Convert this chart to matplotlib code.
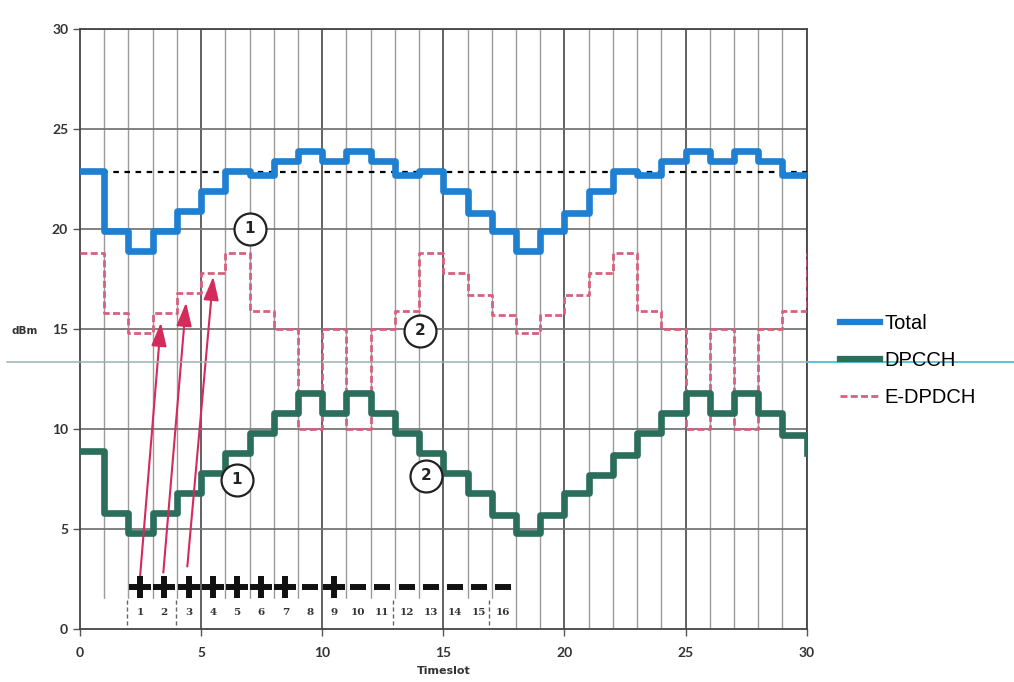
import matplotlib
matplotlib.use('Agg')
import matplotlib.pyplot as plt
from matplotlib.lines import Line2D
import numpy as np

# step values per timeslot (last value = start of the next period, drawn at x=30)
timeslots = list(range(0, 31))
total = [22.9, 19.9, 18.9, 19.9, 20.9, 21.9, 22.9, 22.7, 23.4, 23.9, 23.4, 23.9, 23.4, 22.7, 22.9,
         21.9, 20.8, 19.9, 18.9, 19.9, 20.8, 21.9, 22.9, 22.7, 23.4, 23.9, 23.4, 23.9, 23.4, 22.7, 22.7]
dpcch = [8.9, 5.8, 4.8, 5.8, 6.8, 7.8, 8.8, 9.8, 10.8, 11.8, 10.8, 11.8, 10.8, 9.8, 8.8,
         7.8, 6.8, 5.7, 4.8, 5.7, 6.8, 7.7, 8.7, 9.8, 10.8, 11.8, 10.8, 11.8, 10.8, 9.7, 8.8]
edpdch = [18.8, 15.8, 14.8, 15.8, 16.8, 17.8, 18.8, 15.9, 15.0, 10.0, 15.0, 10.0, 15.0, 15.9, 18.8,
          17.8, 16.7, 15.7, 14.8, 15.7, 16.7, 17.8, 18.8, 15.9, 15.0, 10.0, 15.0, 10.0, 15.0, 15.9, 18.8]
ref_level = 22.85

# TPC command row under the curves
tpc_x = [2.48 + k for k in range(16)]
tpc_signs = ['+', '+', '+', '+', '+', '+', '+', '-', '+', '-', '-', '-', '-', '-', '-', '-']
tpc_labels = [str(k) for k in range(1, 17)]

# arrows (tail -> head) and circled markers
arrows = [((2.48, 2.6), (3.34, 15.3)), ((3.44, 2.8), (4.38, 16.3)), ((4.43, 3.1), (5.5, 17.6))]
circles = [(7.0, 20.0, '1'), (14.05, 14.9, '2'), (6.47, 7.45, '1'), (14.3, 7.65, '2')]

blue = '#1f7fd0'
green = '#2b6e5c'
pink = '#d8607e'
arrow_col = '#d42a5c'

fig = plt.figure(figsize=(10.14, 6.82), dpi=100)
ax = fig.add_axes([80/1014, (682-628.5)/682, 726.7/1014, 600/682])
ax.set_xlim(0, 30)
ax.set_ylim(0, 30)

# grid
for xv in range(1, 31):
    c = '#555555' if xv % 5 == 0 else '#9a9a9a'
    ax.axvline(xv, color=c, lw=1.3 if xv % 5 == 0 else 1.0, zorder=1)
for yv in range(5, 31, 5):
    ax.axhline(yv, color='#777777', lw=1.3, zorder=1)

# white band with the slot numbers (grid partly erased)
ax.axhspan(0.02, 1.5, xmin=0.003, xmax=17.9/30, color='white', zorder=2)
for xv in [5, 10, 15]:
    ax.plot([xv, xv], [0, 1.5], color='#555555', lw=1.3, zorder=2.5)
for xv in [1.92, 3.98, 12.93, 16.9]:
    ax.plot([xv, xv], [0.2, 1.5], color='#666666', lw=1.0, ls=(0, (3, 2)), zorder=2.5)

ax.plot([0, 30], [ref_level, ref_level], color='black', lw=1.6, ls=(0, (2.5, 2.5)), zorder=3)
ax.step(timeslots, edpdch, where='post', color=pink, lw=2.0, ls=(0, (2.5, 1.2)), zorder=4, label='E-DPDCH')
ax.step(timeslots, total, where='post', color=blue, lw=4.8, zorder=5, label='Total')
ax.step(timeslots, dpcch, where='post', color=green, lw=4.8, zorder=5, label='DPCCH')

for (x0, y0), (x1, y1) in arrows:
    ax.annotate('', xy=(x1, y1), xytext=(x0, y0),
                arrowprops=dict(arrowstyle='-|>,head_length=0.8,head_width=0.26', color=arrow_col,
                                lw=1.5, mutation_scale=18, shrinkA=0, shrinkB=0), zorder=6)

for x, s in zip(tpc_x, tpc_signs):
    if s == '+':
        ax.plot(x, 2.07, marker='+', ms=15.5, mew=4.3, color='#111111', zorder=7)
    else:
        ax.plot(x, 2.07, marker='_', ms=12, mew=4.3, color='#111111', zorder=7)
for x, lab in zip(tpc_x, tpc_labels):
    ax.text(x, 0.8, lab, ha='center', va='center', fontsize=7.5, fontweight='bold',
            family='DejaVu Serif', color='#333333', zorder=7)

for x, y, lab in circles:
    ax.plot(x, y, marker='o', ms=23, mfc='white', mec='#222222', mew=1.6, zorder=8)
    ax.text(x, y, lab, ha='center', va='center', fontsize=11, fontweight='bold', color='#222222', zorder=9)

for sp in ax.spines.values():
    sp.set_color('#444444')
    sp.set_linewidth(1.3)
ax.set_xticks(range(0, 31, 5))
ax.set_yticks(range(0, 31, 5))
ax.tick_params(length=5, width=1, color='#555555', labelsize=10, labelcolor='#333333')
ax.tick_params(axis='x', pad=8)
for t in ax.get_xticklabels() + ax.get_yticklabels():
    t.set_fontweight('bold')
    t.set_family('Lato')
ax.set_xlabel('Timeslot', fontsize=8, fontweight='bold', color='#333333', labelpad=5)
fig.text(12/1014, 1 - 331/682, 'dBm', fontsize=7.5, fontweight='bold', color='#333333',
         va='center', ha='left')

# scan line crossing the page
fig.add_artist(Line2D([7/1014, 808/1014], [1 - 362/682, 1 - 362/682], color='#9fb0b2', lw=1.1, zorder=0.5))
fig.add_artist(Line2D([808/1014, 1.0], [1 - 362/682, 1 - 362/682], color='#4cc0d8', lw=1.3))

handles = [Line2D([], [], color=blue, lw=4.5),
           Line2D([], [], color=green, lw=4.5),
           Line2D([], [], color=pink, lw=2.0, ls=(0, (2.5, 1.2)))]
fig.legend(handles, ['Total', 'DPCCH', 'E-DPDCH'], loc='upper left',
           bbox_to_anchor=(840/1014, 1 - 314/682), frameon=False,
           prop={'family': 'Liberation Sans', 'size': 14.5},
           handlelength=2.0, handletextpad=0.2, labelspacing=0.9, borderpad=0, borderaxespad=0)

fig.savefig('out.png', dpi=100)
